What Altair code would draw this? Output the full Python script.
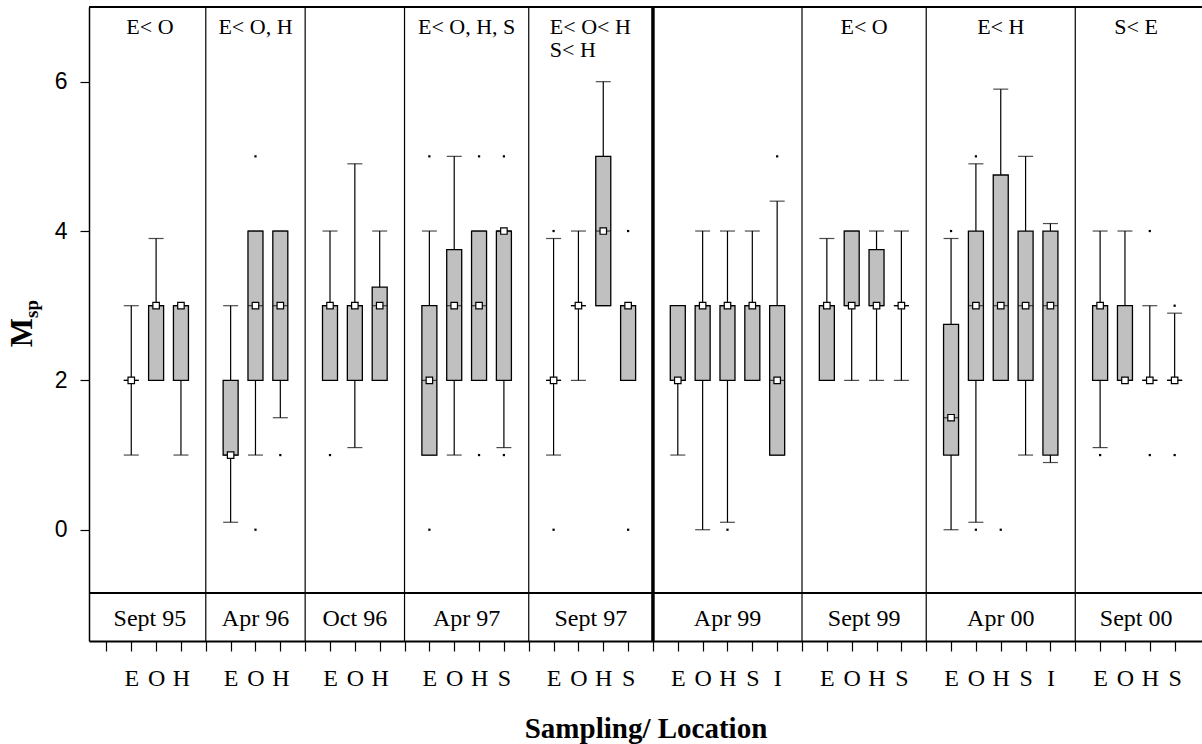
import json

import altair as alt
import pandas as pd

# ---- data -----------------------------------------------------------------
samplings = ["Sept 95", "Apr 96", "Oct 96", "Apr 97", "Sept 97",
             "Apr 99", "Sept 99", "Apr 00", "Sept 00"]
contrasts = ["E< O", "E< O, H", "", "E< O, H, S", "E< O< H\nS< H",
             "", "E< O", "E< H", "S< E"]
sites = [["E", "O", "H"], ["E", "O", "H"], ["E", "O", "H"],
         ["E", "O", "H", "S"], ["E", "O", "H", "S"],
         ["E", "O", "H", "S", "I"], ["E", "O", "H", "S"],
         ["E", "O", "H", "S", "I"], ["E", "O", "H", "S"]]

lower = [[1, 2, 1], [0.1, 1, 1.5], [2, 1.1, 2], [1, 1, 2, 1.1], [1, 2, 3, 2],
         [1, 0, 0.1, 2, 1], [2, 2, 2, 2], [0, 0.1, 2, 1, 0.9], [1.1, 2, 2, 2]]
q1 = [[2, 2, 2], [1, 2, 2], [2, 2, 2], [1, 2, 2, 2], [2, 3, 3, 2],
      [2, 2, 2, 2, 1], [2, 3, 3, 3], [1, 2, 2, 2, 1], [2, 2, 2, 2]]
median = [[2, 3, 3], [1, 3, 3], [3, 3, 3], [2, 3, 3, 4], [2, 3, 4, 3],
          [2, 3, 3, 3, 2], [3, 3, 3, 3], [1.5, 3, 3, 3, 3], [3, 2, 2, 2]]
q3 = [[2, 3, 3], [2, 4, 4], [3, 3, 3.25], [3, 3.75, 4, 4], [2, 3, 5, 3],
      [3, 3, 3, 3, 3], [3, 4, 3.75, 3], [2.75, 4, 4.75, 4, 4], [3, 3, 2, 2]]
upper = [[3, 3.9, 3], [3, 4, 4], [4, 4.9, 4], [4, 5, 4, 4], [3.9, 4, 6, 3],
         [3, 4, 4, 4, 4.4], [3.9, 4, 4, 4], [3.9, 4.9, 5.9, 5, 4.1], [4, 4, 3, 2.9]]
outliers = [[[], [], []],
            [[], [0, 5], [1]],
            [[1], [], []],
            [[0, 5], [], [1, 5], [1, 5]],
            [[0, 4], [], [], [0, 4]],
            [[], [], [0], [], [5]],
            [[], [], [], []],
            [[4], [0, 5], [0], [], []],
            [[1], [], [1, 4], [1, 3]]]

# ---- layout of the sampling/site slots ------------------------------------
X_MIN, X_MAX = -0.5, 43.9
Y_MIN, Y_MAX = -1.49, 7.0
STRIP_TOP = -0.848
W, H = 1113, 634
SERIF = "Liberation Serif"
SANS = "Liberation Sans"

box_rows, cap_rows, out_rows, bound_rows, group_rows = [], [], [], [], []
tick_labels = [""] * 44
pos = 1
left_edge = X_MIN
for g, name in enumerate(samplings):
    for i, site in enumerate(sites[g]):
        p = pos + i
        tick_labels[p] = site
        box_rows.append(dict(pos=p, lo=lower[g][i], q1=q1[g][i], med=median[g][i],
                             q3=q3[g][i], hi=upper[g][i]))
        cap_rows.append(dict(pos=p, v=lower[g][i]))
        cap_rows.append(dict(pos=p, v=upper[g][i]))
        for o in outliers[g][i]:
            out_rows.append(dict(pos=p, v=o))
    right_edge = pos + len(sites[g])
    if g < len(samplings) - 1:
        # the break between the 1997 and 1999 campaigns is drawn heavier
        bound_rows.append(dict(pos=right_edge, w=3.5 if name == "Sept 97" else 1.2))
    else:
        right_edge = X_MAX
    group_rows.append(dict(pos=(left_edge + right_edge) / 2, label=name,
                           note=contrasts[g]))
    left_edge = right_edge
    pos = right_edge + 1

boxes = pd.DataFrame(box_rows)
caps = pd.DataFrame(cap_rows)
outs = pd.DataFrame(out_rows)
bounds = pd.DataFrame(bound_rows)
groups = pd.DataFrame(group_rows)
single_notes = groups[(groups.note != "") & (~groups.note.str.contains("\n"))]
multi_notes = groups[groups.note.str.contains("\n")]

# ---- scales and axes ------------------------------------------------------
x_scale = alt.Scale(domain=[X_MIN, X_MAX], nice=False, zero=False)
y_scale = alt.Scale(domain=[Y_MIN, Y_MAX], nice=False, zero=False)

x_axis = alt.Axis(
    values=list(range(44)),
    labelExpr=json.dumps(tick_labels) + "[datum.value]",
    labelFont=SERIF, labelFontSize=24, labelColor="black",
    labelBaseline="alphabetic", labelPadding=34,
    labelOverlap=False, labelFlush=False,
    tickSize=10, tickWidth=1.2, tickColor="black",
    domainColor="black", domainWidth=2, grid=False,
    titleFont=SERIF, titleFontSize=29, titleFontWeight="bold", titleColor="black",
    titleBaseline="alphabetic", titleY=96,
)
y_axis = alt.Axis(
    values=[0, 2, 4, 6], format="d",
    labelFont=SANS, labelFontSize=23, labelColor="black", labelPadding=13,
    tickSize=9, tickWidth=1.2, tickColor="black",
    domainColor="black", domainWidth=1.5, grid=False,
)


def xenc(field="pos"):
    return alt.X(f"{field}:Q", scale=x_scale, axis=x_axis, title="Sampling/ Location")


def yenc(field):
    return alt.Y(f"{field}:Q", scale=y_scale, axis=y_axis, title="")


# ---- marks ----------------------------------------------------------------
separators = alt.Chart(bounds).mark_rule(color="black").encode(
    x=xenc(), size=alt.Size("w:Q", scale=None, legend=None))

top_border = alt.Chart(groups).mark_rule(color="black", strokeWidth=1.5).encode(
    y=alt.datum(Y_MAX, scale=y_scale, axis=y_axis, title=""))
strip_line = alt.Chart(groups).mark_rule(color="black", strokeWidth=1.5).encode(
    y=alt.datum(STRIP_TOP, scale=y_scale, axis=y_axis, title=""))

whiskers = alt.Chart(boxes).mark_rule(color="black", strokeWidth=1.2).encode(
    x=xenc(), y=yenc("lo"), y2="hi:Q")
whisker_caps = alt.Chart(caps).mark_tick(
    orient="horizontal", size=15, thickness=1.2, color="black").encode(
    x=xenc(), y=yenc("v"))
box_bodies = alt.Chart(boxes).mark_bar(
    size=15, fill="#c0c0c0", stroke="black", strokeWidth=1.3).encode(
    x=xenc(), y=yenc("q1"), y2="q3:Q")
median_lines = alt.Chart(boxes).mark_tick(
    orient="horizontal", size=15, thickness=1.2, color="black").encode(
    x=xenc(), y=yenc("med"))
median_marks = alt.Chart(boxes).mark_square(
    size=42, fill="white", stroke="black", strokeWidth=1.2, opacity=1).encode(
    x=xenc(), y=yenc("med"))
outlier_dots = alt.Chart(outs).mark_square(size=5, color="black", opacity=1).encode(
    x=xenc(), y=yenc("v"))

strip_text = alt.Chart(groups).mark_text(
    font=SERIF, fontSize=24, color="black", baseline="alphabetic").encode(
    x=xenc(), y=alt.value(619), text="label:N")
note_text = alt.Chart(single_notes).mark_text(
    font=SERIF, fontSize=22, color="black", baseline="alphabetic").encode(
    x=xenc(), y=alt.value(26.5), text="note:N")
note_text_multi = alt.Chart(multi_notes).mark_text(
    font=SERIF, fontSize=22, color="black", baseline="alphabetic",
    align="left", dx=-41, lineBreak="\n", lineHeight=23.5).encode(
    x=xenc(), y=alt.value(26.5), text="note:N")

ytitle_df = pd.DataFrame({"t": ["M"]})
ytitle_main = alt.Chart(ytitle_df).mark_text(
    font=SERIF, fontSize=31, fontWeight="bold", color="black",
    angle=270, align="center", baseline="alphabetic").encode(
    x=alt.value(-57), y=alt.value(325.5), text=alt.value("M"))
ytitle_sub = alt.Chart(ytitle_df).mark_text(
    font=SERIF, fontSize=19, fontWeight="bold", color="black",
    angle=270, align="center", baseline="alphabetic").encode(
    x=alt.value(-51.5), y=alt.value(302), text=alt.value("sp"))

chart = alt.layer(
    separators, top_border, strip_line, whiskers, whisker_caps, box_bodies,
    median_lines, median_marks, outlier_dots, strip_text, note_text,
    note_text_multi, ytitle_main, ytitle_sub,
).properties(
    width=W, height=H,
    autosize=alt.AutoSizeParams(type="none"),
    padding={"left": 89, "top": 7, "right": 0, "bottom": 103},
    background="white",
).configure_view(strokeWidth=0)

chart.save("out.html", embed_options={"renderer": "svg", "actions": False})
